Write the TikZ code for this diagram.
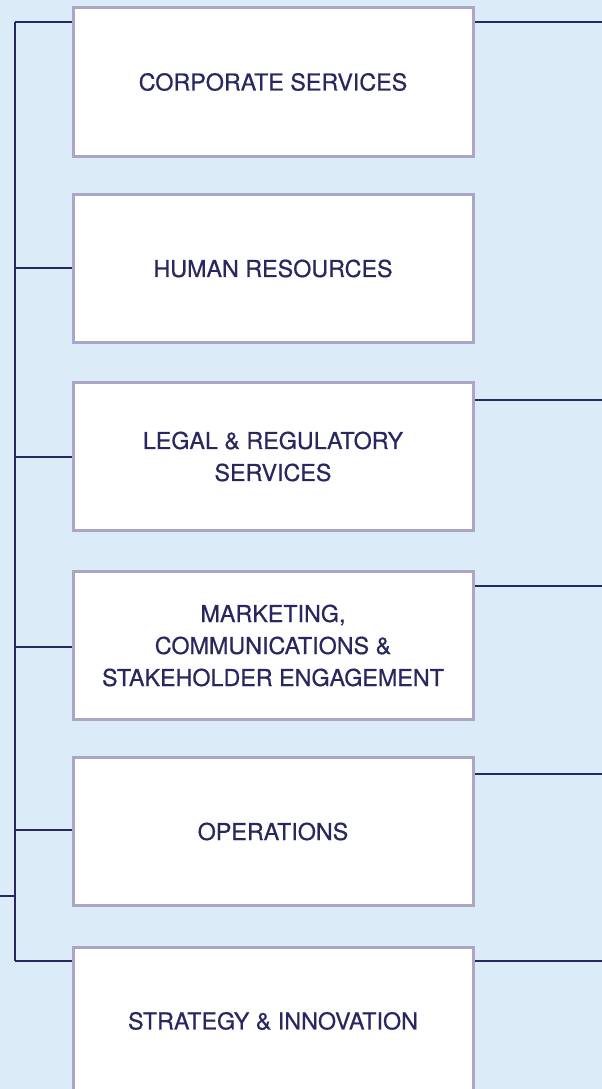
\documentclass[tikz,border=0pt]{standalone}
\usepackage{fontspec}
\setmainfont{TeX Gyre Heros}[FakeBold=0.6]
\usetikzlibrary{calc}
\definecolor{bgblue}{HTML}{DBEBF8}
\definecolor{navy}{HTML}{28275F}
\definecolor{boxedge}{HTML}{A9A6C6}
\tikzset{
  unit box/.style={draw=boxedge, line width=3pt, fill=white,
    minimum width=400pt, minimum height=148pt, inner sep=0pt,
    text=navy, align=center,
    font=\fontsize{23.3}{32}\selectfont},
  conn/.style={draw=navy, line width=2.7pt}
}
\begin{document}
\begin{tikzpicture}[x=1pt, y=-1pt]
  \useasboundingbox (0,0) rectangle (602,1089);
  \fill[bgblue] (0,0) rectangle (602,1089);

  % spine and its feed from the left
  \coordinate (top) at (15,22);
  \coordinate (bot) at (15,961);
  \coordinate (feed) at (0,896);
  \coordinate (feedj) at (15,896);
  \draw[conn] (top) -- (bot);
  \draw[conn] (feed) -- (feedj);

  % units
  \node[unit box] (b1) at (273,82)    {CORPORATE SERVICES};
  \node[unit box] (b2) at (273,268.5) {HUMAN RESOURCES};
  \node[unit box] (b3) at (273,456.5) {LEGAL \& REGULATORY\\SERVICES};
  \node[unit box] (b4) at (273,645.5) {MARKETING,\\COMMUNICATIONS \&\\STAKEHOLDER ENGAGEMENT};
  \node[unit box] (b5) at (273,831.5) {OPERATIONS};
  \node[unit box] (b6) at (273,1021)  {STRATEGY \& INNOVATION};

  % left branch points
  \coordinate (l1) at (15,22);
  \coordinate (l2) at (15,268);
  \coordinate (l3) at (15,457);
  \coordinate (l4) at (15,647);
  \coordinate (l5) at (15,830);
  \coordinate (l6) at (15,961);
  \foreach \i in {1,...,6}
    \draw[conn] (l\i) -- (b\i.west |- l\i);

  % right outgoing links
  \coordinate (r1) at (602,22);
  \coordinate (r3) at (602,400);
  \coordinate (r4) at (602,586);
  \coordinate (r5) at (602,774);
  \coordinate (r6) at (602,961);
  \foreach \i in {1,3,4,5,6}
    \draw[conn] (b\i.east |- r\i) -- (r\i);
\end{tikzpicture}
\end{document}
